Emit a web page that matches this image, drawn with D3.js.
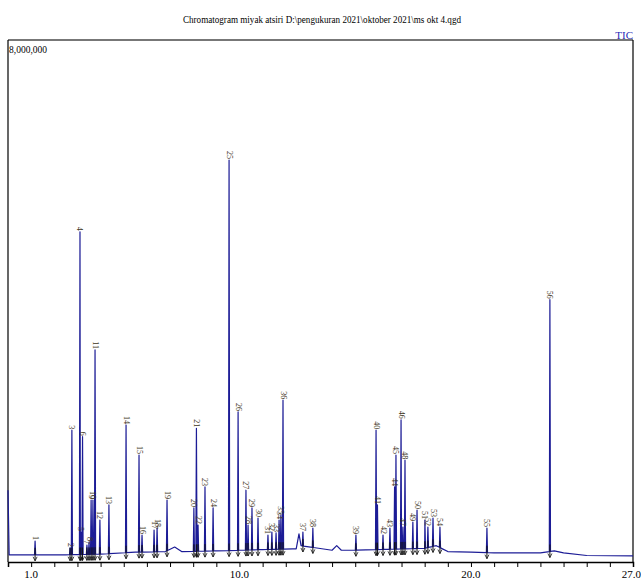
<!DOCTYPE html>
<html>
<head>
<meta charset="utf-8">
<script src="https://cdn.jsdelivr.net/npm/d3@7"></script>
<style>
  body { margin: 0; background: #fff; }
  text { font-family: "Liberation Serif", "DejaVu Serif", serif; }
</style>
</head>
<body>
<div id="container"></div>
<script>
//Peak numbers, retention times (min) and apex intensities
var peakIds = d3.range(1, 57);
var peakTimes = [1.17, 2.68, 2.76, 3.11, 3.15, 3.22, 3.41, 3.50, 3.59, 3.67,
	3.76, 3.97, 4.36, 5.10, 5.66, 5.79, 6.31, 6.44, 6.87, 8.03,
	8.14, 8.21, 8.51, 8.86, 9.55, 9.94, 10.28, 10.37, 10.54, 10.80,
	11.23, 11.40, 11.58, 11.71, 11.79, 11.88, 12.74, 13.17, 15.03, 15.90,
	15.96, 16.20, 16.50, 16.70, 16.76, 16.98, 17.06, 17.15, 17.49, 17.67,
	18.01, 18.14, 18.36, 18.66, 20.69, 23.41];
var peakHeights = [322000, 215000, 2020000, 5060000, 460000, 1920000, 260000, 306000, 950000, 950000,
	3250000, 644000, 874000, 2100000, 1640000, 414000, 490000, 521000, 950000, 828000,
	2050000, 567000, 1150000, 828000, 6160000, 2300000, 1100000, 567000, 828000, 674000,
	414000, 460000, 445000, 644000, 720000, 2480000, 460000, 521000, 414000, 2020000,
	874000, 414000, 521000, 1150000, 1640000, 2180000, 536000, 1560000, 613000, 797000,
	644000, 536000, 674000, 536000, 521000, 4020000];

//Baseline of the trace between the peaks (time, intensity)
var baseTimes = [0.0, 0.05, 1.0, 2.5, 4.0, 5.5, 6.8, 7.2, 7.5, 9.0, 10.0, 11.0, 12.3, 12.45, 12.57, 12.66,
	14.0, 14.2, 14.4, 15.0, 16.0, 17.0, 18.0, 18.5, 19.0, 20.0, 21.0, 23.0, 23.6, 24.0, 25.0, 27.0];
var baseValues = [1100000, 110000, 110000, 110000, 120000, 150000, 160000, 230000, 160000, 170000, 180000, 190000, 200000, 200000, 430000, 250000,
	180000, 250000, 180000, 180000, 190000, 200000, 210000, 250000, 160000, 150000, 140000, 140000, 170000, 140000, 100000, 95000];

var xTickLabels = ["1.0", "10.0", "20.0", "27.0"];
var xTickLabelValues = [1, 10, 20, 27];

var title = "Chromatogram miyak atsiri D:\\pengukuran 2021\\oktober 2021\\ms okt 4.qgd";

var W = 641, H = 580;
var plotL = 8, plotR = 633, plotT = 40, plotB = 562;

var svg = d3.select('#container')
	.append("svg")
	.attr("width", W)
	.attr("height", H);

var x = d3.scaleLinear().domain([0, 27]).range([plotL, plotR]);
var y = d3.scaleLinear().domain([0, 8000000]).range([plotB, plotT]);
var baseAt = d3.scaleLinear().domain(baseTimes).range(baseValues);

//Build the trace: baseline points plus a narrow spike for each peak
var hw = 0.025;
var pts = baseTimes.map(function(t, i){ return [t, baseValues[i]]; });
peakTimes.forEach(function(t, i){
	pts.push([t - hw, baseAt(t - hw)]);
	pts.push([t, peakHeights[i]]);
	pts.push([t + hw, baseAt(t + hw)]);
});
pts.sort(function(a, b){ return a[0] - b[0]; });

var line = d3.line()
	.x(function(d){ return x(d[0]); })
	.y(function(d){ return y(d[1]); });

//frame
svg.append("line").attr("x1", plotL).attr("x2", plotR).attr("y1", plotT).attr("y2", plotT)
	.attr("stroke", "#777").attr("stroke-width", 2);
svg.append("line").attr("x1", plotL).attr("x2", plotL).attr("y1", plotT).attr("y2", plotB)
	.attr("stroke", "#000").attr("stroke-width", 1.2);
svg.append("line").attr("x1", plotR).attr("x2", plotR).attr("y1", plotT).attr("y2", plotB)
	.attr("stroke", "#000").attr("stroke-width", 1.2);

//trace
svg.append("path")
	.datum(pts)
	.attr("d", line)
	.attr("fill", "none")
	.attr("stroke", "#1c1c96")
	.attr("stroke-width", 1.2)
	.attr("stroke-linejoin", "round");

//integration marks at each peak
var marks = svg.append("g");
peakTimes.forEach(function(t){
	var bx = x(t), by = y(baseAt(t));
	marks.append("line").attr("x1", bx).attr("x2", bx).attr("y1", by - 7).attr("y2", by + 6)
		.attr("stroke", "#111").attr("stroke-width", 1);
	marks.append("path").attr("d", "M" + (bx - 2) + "," + (by + 2) + "L" + bx + "," + (by + 6) + "L" + (bx + 2) + "," + (by + 2))
		.attr("fill", "none").attr("stroke", "#111").attr("stroke-width", 0.8);
});

//peak labels, rotated
svg.selectAll("text.peak")
	.data(peakIds)
	.enter()
	.append("text")
	.attr("class", "peak")
	.text(function(d){ return d; })
	.attr("transform", function(d, i){
		return "translate(" + (x(peakTimes[i]) - 2.5) + "," + (y(peakHeights[i]) - 1) + ") rotate(90)";
	})
	.attr("text-anchor", "end")
	.attr("font-size", "8px")
	.attr("fill", "#3d3420");

//x axis
var xAxis = d3.axisBottom(x)
	.tickValues(d3.range(0, 28))
	.tickSize(5)
	.tickFormat("");
var ax = svg.append("g")
	.attr("transform", "translate(0," + plotB + ")")
	.call(xAxis);
ax.select(".domain").attr("stroke", "#000").attr("stroke-width", 1.5);
ax.selectAll(".tick line").attr("stroke", "#000");

svg.selectAll("text.xlab")
	.data(xTickLabels)
	.enter()
	.append("text")
	.attr("class", "xlab")
	.text(function(d){ return d; })
	.attr("x", function(d, i){ return i == 3 ? W : x(xTickLabelValues[i]); })
	.attr("y", 578)
	.attr("text-anchor", function(d, i){ return i == 3 ? "end" : "middle"; })
	.attr("font-size", "11px")
	.attr("fill", "#000");

//title and corner labels
svg.append("text")
	.text(title)
	.attr("x", 322)
	.attr("y", 23)
	.attr("text-anchor", "middle")
	.attr("font-size", "11px")
	.attr("textLength", 278)
	.attr("lengthAdjust", "spacingAndGlyphs")
	.attr("fill", "#000");

svg.append("text")
	.text("TIC")
	.attr("x", 633)
	.attr("y", 39)
	.attr("text-anchor", "end")
	.attr("font-size", "11px")
	.attr("fill", "#2a2ab8");

svg.append("text")
	.text("8,000,000")
	.attr("x", 9)
	.attr("y", 53)
	.attr("font-size", "11px")
	.attr("textLength", 38)
	.attr("lengthAdjust", "spacingAndGlyphs")
	.attr("fill", "#000");
</script>
</body>
</html>
